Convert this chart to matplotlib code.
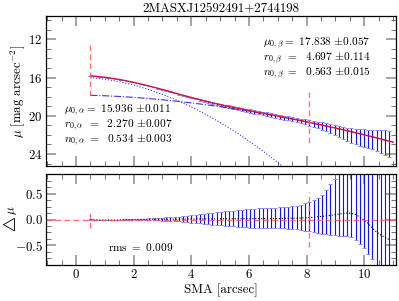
import matplotlib
matplotlib.use('Agg')
import matplotlib.pyplot as plt
from matplotlib.ticker import MultipleLocator, AutoMinorLocator

plt.rcParams.update({
    'font.family': 'serif',
    'font.serif': ['cmr10'],
    'mathtext.fontset': 'cm',
    'axes.formatter.use_mathtext': True,
    'axes.unicode_minus': True,
    'font.size': 9.3,
})

# ---------------- data ----------------
title = "2MASXJ12592491+2744198"

sma = [0.50, 0.65, 0.79, 0.94, 1.08, 1.23, 1.38, 1.52, 1.67, 1.81, 1.96,
       2.11, 2.25, 2.40, 2.54, 2.69, 2.84, 2.98, 3.13, 3.27, 3.42,
       3.57, 3.71, 3.86, 4.00, 4.15, 4.30, 4.44, 4.59, 4.73, 4.88,
       5.03, 5.17, 5.32, 5.46, 5.61, 5.76, 5.90, 6.05, 6.19, 6.34,
       6.49, 6.63, 6.78, 6.92, 7.07, 7.22, 7.36, 7.51, 7.65, 7.80, 7.95,
       8.09, 8.24, 8.38, 8.53, 8.68, 8.82, 8.97, 9.11, 9.26, 9.41,
       9.55, 9.70, 9.84, 9.99, 10.14, 10.28, 10.43, 10.57, 10.72, 10.87]

mu_data = [15.820, 15.860, 15.900, 15.942, 15.999, 16.066, 16.135, 16.207, 16.297, 16.386, 16.476,
           16.578, 16.684, 16.790, 16.899, 17.017, 17.133, 17.251, 17.372, 17.495, 17.616,
           17.739, 17.860, 17.981, 18.102, 18.217, 18.331, 18.447, 18.554, 18.659, 18.763,
           18.866, 18.960, 19.055, 19.149, 19.238, 19.325, 19.413, 19.499, 19.584, 19.668,
           19.753, 19.837, 19.922, 20.005, 20.091, 20.179, 20.266, 20.355, 20.446, 20.539, 20.632,
           20.729, 20.829, 20.929, 21.031, 21.138, 21.245, 21.354, 21.466, 21.580, 21.691,
           21.789, 21.869, 21.930, 21.976, 22.015, 22.040, 22.070, 22.127, 22.196, 22.264]

resid = [0.000, -0.004, -0.008, -0.010, -0.011, -0.011, -0.010, -0.008, -0.006, -0.004, -0.002,
         0.000, 0.002, 0.003, 0.004, 0.005, 0.005, 0.006, 0.006, 0.007, 0.007,
         0.008, 0.008, 0.009, 0.009, 0.010, 0.010, 0.011, 0.011, 0.012, 0.012,
         0.013, 0.013, 0.014, 0.014, 0.015, 0.015, 0.016, 0.016, 0.017, 0.017,
         0.018, 0.018, 0.019, 0.019, 0.020, 0.021, 0.022, 0.024, 0.026, 0.029, 0.033,
         0.038, 0.045, 0.052, 0.060, 0.070, 0.080, 0.092, 0.104, 0.116, 0.125,
         0.120, 0.095, 0.050, -0.010, -0.080, -0.165, -0.245, -0.300, -0.345, -0.390]

err_bright = [0.004, 0.004, 0.004, 0.005, 0.005, 0.005, 0.006, 0.006, 0.007, 0.008, 0.009,
              0.011, 0.013, 0.015, 0.018, 0.021, 0.024, 0.028, 0.032, 0.036, 0.041,
              0.046, 0.051, 0.057, 0.068, 0.076, 0.085, 0.094, 0.103, 0.111, 0.119,
              0.127, 0.134, 0.141, 0.148, 0.155, 0.161, 0.167, 0.172, 0.176, 0.180,
              0.183, 0.186, 0.188, 0.190, 0.192, 0.195, 0.199, 0.205, 0.214, 0.228, 0.247,
              0.268, 0.290, 0.312, 0.334, 0.355, 0.376, 0.396, 0.415, 0.433, 0.450,
              0.466, 0.482, 0.520, 0.550, 0.580, 0.600, 0.630, 0.660, 0.690, 0.720]

err_faint = [0.004, 0.004, 0.004, 0.005, 0.005, 0.005, 0.006, 0.006, 0.007, 0.008, 0.009,
             0.011, 0.013, 0.015, 0.018, 0.021, 0.024, 0.028, 0.033, 0.037, 0.042,
             0.047, 0.053, 0.059, 0.070, 0.079, 0.088, 0.098, 0.108, 0.117, 0.126,
             0.135, 0.143, 0.151, 0.159, 0.167, 0.174, 0.181, 0.187, 0.192, 0.197,
             0.201, 0.205, 0.208, 0.211, 0.214, 0.218, 0.223, 0.231, 0.242, 0.257, 0.277,
             0.300, 0.330, 0.365, 0.420, 0.500, 0.600, 0.700, 0.780, 0.860, 0.940,
             1.020, 1.100, 1.180, 1.270, 1.370, 1.480, 1.600, 1.730, 1.870, 2.020]

r_model = [0.5, 1.0, 1.5, 2.0, 2.5, 3.0, 3.5, 4.0, 4.5, 5.0, 5.5,
           6.0, 6.5, 7.0, 7.5, 8.0, 8.5, 9.0, 9.5, 10.0, 10.5, 11.0]
mu_total = [15.820, 15.971, 16.202, 16.502, 16.860, 17.259, 17.676, 18.090, 18.481, 18.836, 19.158,
            19.455, 19.743, 20.030, 20.326, 20.632, 20.951, 21.283, 21.631, 21.993, 22.369, 22.759]
mu_beta = [17.858, 17.908, 17.981, 18.076, 18.192, 18.328, 18.482, 18.654, 18.844, 19.051, 19.275,
           19.515, 19.771, 20.043, 20.331, 20.634, 20.952, 21.284, 21.632, 21.994, 22.370, 22.760]
r_alpha = [0.5, 1.0, 1.5, 2.0, 2.5, 3.0, 3.5, 4.0, 4.5, 5.0, 5.5, 6.0, 6.5, 7.0, 7.5]
mu_alpha = [16.000, 16.170, 16.436, 16.792, 17.237, 17.766, 18.378, 19.072, 19.846, 20.700,
            21.631, 22.638, 23.722, 24.881, 26.115]

x_marks = [0.5, 8.08]
top_mark_lo = [12.6, 17.5]
top_mark_hi = [18.15, 23.05]
bot_mark_half = [0.17, 0.53]

text_alpha = [r'$\mu_{0,\alpha} = \ 15.936\ {\pm}0.011$',
              r'$r_{0,\alpha}\ \,=\ \ 2.270\ {\pm}0.007$',
              r'$n_{0,\alpha}\ =\ \ 0.534\ {\pm}0.003$']
text_beta = [r'$\mu_{0,\beta} = \ 17.838\ {\pm}0.057$',
             r'$r_{0,\beta}\ \,=\ \ 4.697\ {\pm}0.114$',
             r'$n_{0,\beta}\ =\ \ 0.563\ {\pm}0.015$']
rms_text = r'$\mathrm{rms}\ =\ 0.009$'

# ---------------- figure ----------------
fig = plt.figure(figsize=(3.99, 3.01), dpi=100)
W, H = 399.0, 301.0
ax1 = fig.add_axes([46 / W, (H - 166) / H, 350 / W, 150 / H])
ax2 = fig.add_axes([46 / W, (H - 265) / H, 350 / W, 91 / H])

for ax in (ax1, ax2):
    ax.tick_params(which='both', direction='in', top=True, right=True, pad=2.5)
    ax.tick_params(which='major', length=7, width=1.1, color='0.55')
    ax.tick_params(which='minor', length=3.6, width=0.6, color='0.35')
    ax.xaxis.set_major_locator(MultipleLocator(2))
    ax.xaxis.set_minor_locator(AutoMinorLocator(4))
    ax.yaxis.set_minor_locator(AutoMinorLocator(4))
    ax.set_xlim(-1.04, 11.1)
    for s in ax.spines.values():
        s.set_linewidth(0.9)


def draw_bars(ax, y):
    eb = ax.errorbar(sma, y, yerr=[err_bright, err_faint], fmt='none', ecolor='#1010ff',
                     elinewidth=0.8, capsize=1.6, capthick=0.7, zorder=2)
    for cl in eb[1]:
        cl.set_color('#8888ff')
        cl.set_markeredgecolor('#8888ff')
    return eb


# top panel
draw_bars(ax1, mu_data)
ax1.plot(r_alpha, mu_alpha, ':', color='blue', lw=0.8, alpha=0.8, zorder=3)
ax1.plot(r_model, mu_beta, '-.', color='blue', lw=0.8, alpha=0.8, zorder=3)
ax1.plot(r_model, mu_total, '-', color='#e0103a', lw=1.0, zorder=4)
for xm, lo, hi in zip(x_marks, top_mark_lo, top_mark_hi):
    ax1.plot([xm, xm], [lo, hi], '--', color='#ff5050', lw=1.0, alpha=0.8,
             dashes=(4, 2.5), zorder=5)
ax1.set_ylim(25.25, 9.57)
ax1.yaxis.set_major_locator(MultipleLocator(4))
ax1.tick_params(labelbottom=False)
ax1.set_ylabel(r'$\mu\ [\mathrm{mag\ arcsec^{-2}}]$')
ax1.yaxis.set_label_coords(-0.054, 0.5)
ax1.set_title(title, fontsize=9.3, pad=2.5)

for i, t in enumerate(text_alpha):
    ax1.text(-0.42, [19.38, 21.05, 22.61][i], t, fontsize=8.2, va='center', ha='left')
for i, t in enumerate(text_beta):
    ax1.text(6.5, [12.49, 14.10, 15.62][i], t, fontsize=8.2, va='center', ha='left')

# bottom panel
draw_bars(ax2, resid)
ax2.plot(sma, resid, ':', color='black', lw=0.8, zorder=3)
ax2.axhline(0.0, ls='--', color='#ff5050', lw=1.0, alpha=0.8, dashes=(4, 2.5), zorder=5)
for xm, hh in zip(x_marks, bot_mark_half):
    ax2.plot([xm, xm], [-hh, hh], '--', color='#ff5050', lw=1.0, alpha=0.8,
             dashes=(4, 2.5), zorder=5)
ax2.set_ylim(-0.88, 0.88)
ax2.yaxis.set_major_locator(MultipleLocator(0.5))
ax2.set_ylabel(r'$\triangle\mu$')
ax2.yaxis.set_label_coords(-0.078, 0.5)
ax2.set_xlabel('SMA [arcsec]', labelpad=1.5)
ax2.text(1.1, -0.535, rms_text, fontsize=8.2, va='center', ha='left')

fig.savefig('out.png', dpi=100)
